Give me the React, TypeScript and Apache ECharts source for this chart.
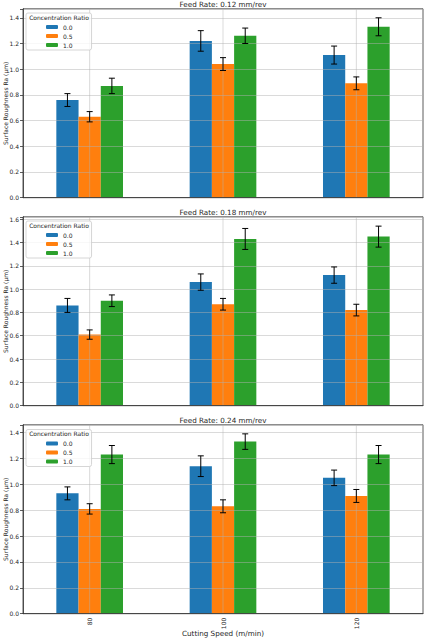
import React, { useEffect, useRef } from "react";
import * as echarts from "echarts";

const speeds = ["80", "100", "120"];
const ratios = ["0.0", "0.5", "1.0"];
const feedTitles = ["Feed Rate: 0.12 mm/rev", "Feed Rate: 0.18 mm/rev", "Feed Rate: 0.24 mm/rev"];
const colors = ["#1f77b4", "#ff7f0e", "#2ca02c"];

// values[panel][ratio][speed]
const f012Mean = [
  [0.76, 1.22, 1.11],
  [0.63, 1.04, 0.89],
  [0.87, 1.26, 1.33],
];
const f012Err = [
  [0.05, 0.08, 0.07],
  [0.04, 0.05, 0.05],
  [0.06, 0.06, 0.07],
];
const f018Mean = [
  [0.86, 1.06, 1.12],
  [0.61, 0.87, 0.82],
  [0.9, 1.43, 1.45],
];
const f018Err = [
  [0.06, 0.07, 0.07],
  [0.04, 0.05, 0.05],
  [0.05, 0.09, 0.09],
];
const f024Mean = [
  [0.93, 1.14, 1.05],
  [0.81, 0.83, 0.91],
  [1.23, 1.33, 1.23],
];
const f024Err = [
  [0.05, 0.08, 0.06],
  [0.04, 0.05, 0.05],
  [0.07, 0.06, 0.07],
];
const yMaxes = [1.47, 1.62, 1.46];

const means = [f012Mean, f018Mean, f024Mean];
const errs = [f012Err, f018Err, f024Err];

const FONT = "DejaVu Sans";
const TXT = "#262626";

export default function App() {
  const ref = useRef<HTMLDivElement>(null);
  useEffect(() => {
    if (!ref.current) return;
    const chart = echarts.init(ref.current, undefined, { renderer: "svg" });
    const gridTops = [8.8, 216.8, 424.8];
    const gridH = 188.9;
    const grids: any[] = [];
    const xAxes: any[] = [];
    const yAxes: any[] = [];
    const series: any[] = [];
    const legends: any[] = [];
    const graphics: any[] = [];
    const legendTops = [13, 221, 429.5];

    for (let p = 0; p < 3; p++) {
      grids.push({
        left: 23,
        width: 400,
        top: gridTops[p],
        height: gridH,
        containLabel: false,
        outerBoundsMode: "none",
        show: true,
        borderColor: "#333",
        borderWidth: 0.8,
        backgroundColor: "transparent",
      });
      const last = p === 2;
      xAxes.push({
        type: "category",
        gridIndex: p,
        data: speeds,
        z: 3,
        axisLine: { lineStyle: { color: "#333", width: 0.8 } },
        axisTick: { alignWithLabel: true, length: 3, lineStyle: { color: "#333", width: 0.8 } },
        axisLabel: last
          ? { show: true, rotate: 90, fontSize: 6, color: TXT, fontFamily: FONT, margin: 4 }
          : { show: false },
        splitLine: { show: false },
        name: last ? "Cutting Speed (m/min)" : "",
        nameLocation: "middle",
        nameGap: 16.5,
        nameMoveOverlap: false,
        nameTextStyle: { fontSize: 7.2, color: TXT, fontFamily: FONT },
      });
      yAxes.push({
        type: "value",
        gridIndex: p,
        min: 0,
        max: yMaxes[p],
        interval: 0.2,
        z: 3,
        axisLine: { show: true, lineStyle: { color: "#333", width: 0.8 } },
        axisTick: { show: true, length: 3, lineStyle: { color: "#333", width: 0.8 } },
        axisLabel: {
          fontSize: 6,
          color: TXT,
          fontFamily: FONT,
          margin: 4,
          formatter: (v: number) =>
            Math.abs(v * 5 - Math.round(v * 5)) < 1e-6 ? v.toFixed(1) : "",
        },
        splitLine: { show: true, lineStyle: { color: "rgba(176,176,176,0.6)", width: 0.8 } },
        name: "Surface Roughness Ra (μm)",
        nameLocation: "middle",
        nameRotate: 90,
        nameGap: 14.5,
        nameMoveOverlap: false,
        nameTextStyle: { fontSize: 6, color: TXT, fontFamily: FONT },
      });
      for (let s = 0; s < 3; s++) {
        series.push({
          type: "bar",
          name: ratios[s],
          xAxisIndex: p,
          yAxisIndex: p,
          data: means[p][s],
          barWidth: "16.667%",
          barGap: "0%",
          itemStyle: { color: colors[s] },
          z: 2,
        });
      }
      // vertical grid lines at category centers
      series.push({
        type: "custom",
        name: "vgrid" + p,
        xAxisIndex: p,
        yAxisIndex: p,
        z: 3,
        silent: true,
        data: speeds.map((_, i) => [i, 0]),
        encode: { x: 0, y: 1 },
        renderItem: (params: any, api: any) => {
          const c = api.coord([api.value(0), 0]);
          const cs = params.coordSys;
          return {
            type: "line",
            shape: { x1: c[0], y1: cs.y, x2: c[0], y2: cs.y + cs.height },
            style: { stroke: "rgba(176,176,176,0.6)", lineWidth: 0.8 },
          };
        },
      });
      // error bars
      const ebData: number[][] = [];
      for (let s = 0; s < 3; s++)
        for (let c = 0; c < 3; c++) ebData.push([c, s, means[p][s][c], errs[p][s][c]]);
      series.push({
        type: "custom",
        name: "err" + p,
        xAxisIndex: p,
        yAxisIndex: p,
        z: 5,
        silent: true,
        data: ebData,
        encode: { x: 0, y: 2 },
        renderItem: (params: any, api: any) => {
          const ci = api.value(0);
          const si = api.value(1);
          const v = api.value(2);
          const e = api.value(3);
          const band = api.size([1, 0])[0];
          const off = ((si - 1) * band) / 6;
          const t = api.coord([ci, v + e]);
          const b = api.coord([ci, v - e]);
          const x = t[0] + off;
          const st = { stroke: "#000", lineWidth: 1 };
          return {
            type: "group",
            children: [
              { type: "line", shape: { x1: x, y1: t[1], x2: x, y2: b[1] }, style: st },
              { type: "line", shape: { x1: x - 3, y1: t[1], x2: x + 3, y2: t[1] }, style: st },
              { type: "line", shape: { x1: x - 3, y1: b[1], x2: x + 3, y2: b[1] }, style: st },
            ],
          };
        },
      });
      legends.push({
        data: ratios,
        orient: "vertical",
        left: 26,
        top: legendTops[p],
        padding: [10, 19, 1, 20],
        itemWidth: 12,
        itemHeight: 4,
        itemGap: 1,
        z: 6,
        selectedMode: false,
        backgroundColor: "rgba(255,255,255,0.8)",
        borderColor: "#cccccc",
        borderWidth: 0.8,
        borderRadius: 2,
        textStyle: { fontSize: 6, color: TXT, fontFamily: FONT, lineHeight: 8 },
      });
      graphics.push({
        type: "text",
        x: 59,
        y: legendTops[p] + 4.3,
        z: 100,
        style: {
          text: "Concentration Ratio",
          fontSize: 6,
          fontFamily: FONT,
          fill: TXT,
          textAlign: "center",
          textVerticalAlign: "middle",
        },
      });
      graphics.push({
        type: "text",
        x: 223,
        y: gridTops[p] - 4.8,
        z: 100,
        style: {
          text: feedTitles[p],
          fontSize: 7.2,
          fontFamily: FONT,
          fill: TXT,
          textAlign: "center",
          textVerticalAlign: "middle",
        },
      });
    }

    chart.setOption({
      animation: false,
      backgroundColor: "#ffffff",
      grid: grids,
      xAxis: xAxes,
      yAxis: yAxes,
      legend: legends,
      series,
      graphic: graphics,
    });
    return () => chart.dispose();
  }, []);
  return (
    <div
      ref={ref}
      style={{ position: "absolute", left: 0, top: 0, width: 424, height: 640 }}
    />
  );
}
